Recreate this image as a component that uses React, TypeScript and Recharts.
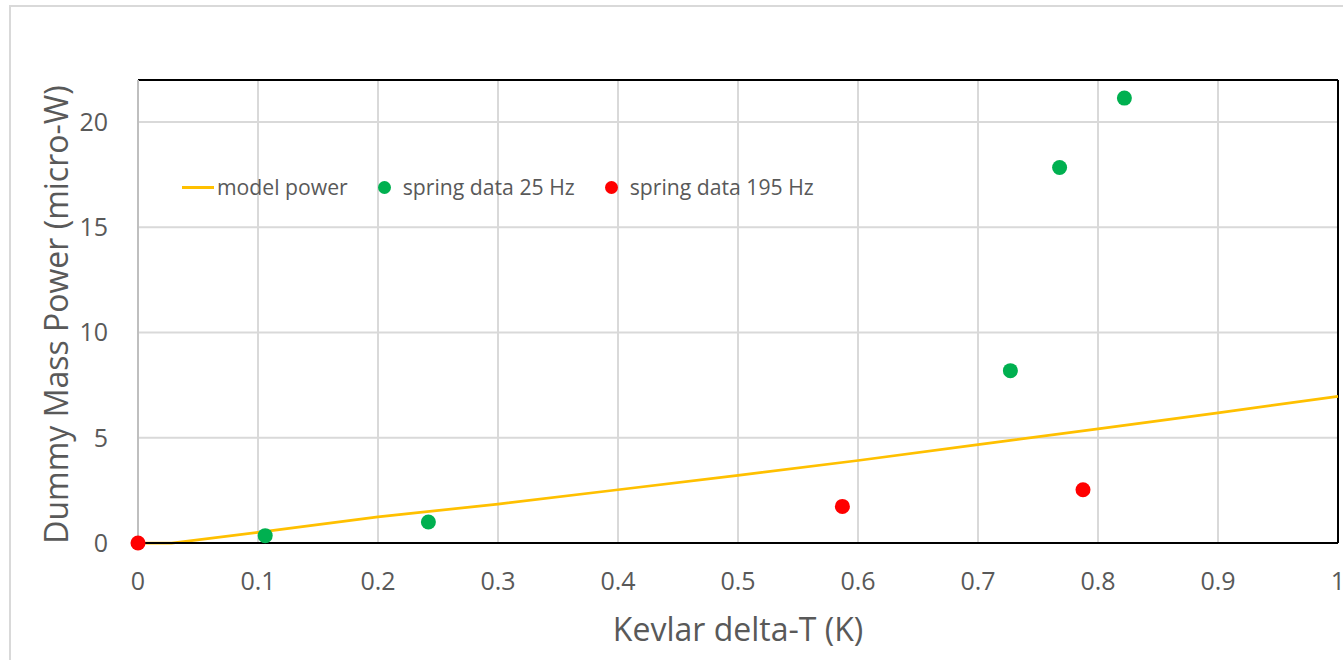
import React from "react";
import {
  CartesianGrid,
  ComposedChart,
  Line,
  ReferenceLine,
  Scatter,
  XAxis,
  YAxis,
} from "recharts";

// model curve
const modelDeltaT = [0, 0.028, 0.1, 0.2, 0.3, 0.4, 0.5, 0.6, 0.7, 0.8, 0.9, 1.0];
const modelPower = [0, 0, 0.5, 1.24, 1.85, 2.53, 3.21, 3.92, 4.67, 5.42, 6.18, 6.97];

// spring data 25 Hz
const spring25DeltaT = [0.106, 0.242, 0.727, 0.768, 0.822];
const spring25Power = [0.35, 1.0, 8.19, 17.84, 21.14];

// spring data 195 Hz
const spring195DeltaT = [0, 0.587, 0.7875];
const spring195Power = [0, 1.74, 2.53];

const xTicks = [0, 0.1, 0.2, 0.3, 0.4, 0.5, 0.6, 0.7, 0.8, 0.9, 1];
const yTicks = [0, 5, 10, 15, 20];

const FONT = "'Open Sans', 'DejaVu Sans', sans-serif";
const TEXT = "#595959";
const GOLD = "#FFC000";
const GREEN = "#00B050";
const RED = "#FF0000";

const zip = (xs: number[], ys: number[]) => xs.map((x, i) => ({ x, y: ys[i] }));
const modelData = zip(modelDeltaT, modelPower);
const spring25 = zip(spring25DeltaT, spring25Power);
const spring195 = zip(spring195DeltaT, spring195Power);

const TICK = { fontSize: 25, fontFamily: FONT, fill: TEXT } as const;

function dot(color: string) {
  return (p: any) => <circle cx={p.cx} cy={p.cy} r={7.5} fill={color} />;
}

function YTitle({ viewBox }: any) {
  const cx = 55;
  const cy = viewBox.y + viewBox.height / 2 + 3;
  return (
    <text
      x={cx}
      y={cy}
      transform={`rotate(-90, ${cx}, ${cy})`}
      textAnchor="middle"
      dominantBaseline="central"
      fontSize={32}
      fontFamily={FONT}
      fill={TEXT}
    >
      Dummy Mass Power (micro-W)
    </text>
  );
}

function XTitle({ viewBox }: any) {
  return (
    <text
      x={viewBox.x + viewBox.width / 2}
      y={viewBox.y + 98}
      textAnchor="middle"
      fontSize={32}
      fontFamily={FONT}
      fill={TEXT}
    >
      Kevlar delta-T (K)
    </text>
  );
}

// legend drawn as an overlay so it doesn't eat plot height
function ChartLegend() {
  const dotStyle = (c: string) => ({
    width: 13,
    height: 13,
    borderRadius: "50%",
    background: c,
    display: "inline-block",
  });
  return (
    <div
      style={{
        position: "absolute",
        left: 182,
        top: 172,
        display: "flex",
        alignItems: "center",
        fontFamily: FONT,
        fontSize: 21.2,
        color: TEXT,
        lineHeight: "30px",
        whiteSpace: "nowrap",
      }}
    >
      <span style={{ width: 32, height: 3, background: GOLD, display: "inline-block" }} />
      <span style={{ marginLeft: 3 }}>model power</span>
      <span style={{ ...dotStyle(GREEN), marginLeft: 30 }} />
      <span style={{ marginLeft: 12 }}>spring data 25 Hz</span>
      <span style={{ ...dotStyle(RED), marginLeft: 30 }} />
      <span style={{ marginLeft: 12 }}>spring data 195 Hz</span>
    </div>
  );
}

export default function App() {
  return (
    <div style={{ position: "absolute", left: 0, top: 0, width: 1343, height: 660, overflow: "hidden", background: "#fff" }}>
      <div
        style={{
          position: "absolute",
          left: 9,
          top: 5,
          width: 1400,
          height: 700,
          borderLeft: "2px solid #d9d9d9",
          borderTop: "2px solid #d9d9d9",
        }}
      />
      <div style={{ position: "absolute", left: 0, top: 0 }}>
        <ComposedChart
          width={1343}
          height={660}
          margin={{ top: 80, right: 5, left: 0, bottom: 0 }}
        >
          <CartesianGrid stroke="#d9d9d9" strokeWidth={2} />
          <XAxis
            type="number"
            dataKey="x"
            domain={[0, 1]}
            ticks={xTicks}
            interval={0}
            height={117}
            tick={TICK}
            tickLine={false}
            tickSize={0}
            tickMargin={29}
            axisLine={{ stroke: "#000", strokeWidth: 2 }}
            tickFormatter={(v: number) => String(v)}
            label={<XTitle />}
          />
          <YAxis
            type="number"
            domain={[0, 22]}
            ticks={yTicks}
            interval={0}
            width={138}
            tick={TICK}
            tickLine={false}
            tickSize={0}
            tickMargin={30}
            axisLine={{ stroke: "#bfbfbf", strokeWidth: 2 }}
            label={<YTitle />}
          />
          <ReferenceLine y={22} stroke="#000" strokeWidth={2} />
          <ReferenceLine x={1} stroke="#000" strokeWidth={2} />
          <Line
            data={modelData}
            dataKey="y"
            type="linear"
            stroke={GOLD}
            strokeWidth={2.75}
            dot={false}
            activeDot={false}
            isAnimationActive={false}
          />
          <Scatter data={spring25} dataKey="y" shape={dot(GREEN)} isAnimationActive={false} />
          <Scatter data={spring195} dataKey="y" shape={dot(RED)} isAnimationActive={false} />
        </ComposedChart>
      </div>
      <ChartLegend />
    </div>
  );
}
